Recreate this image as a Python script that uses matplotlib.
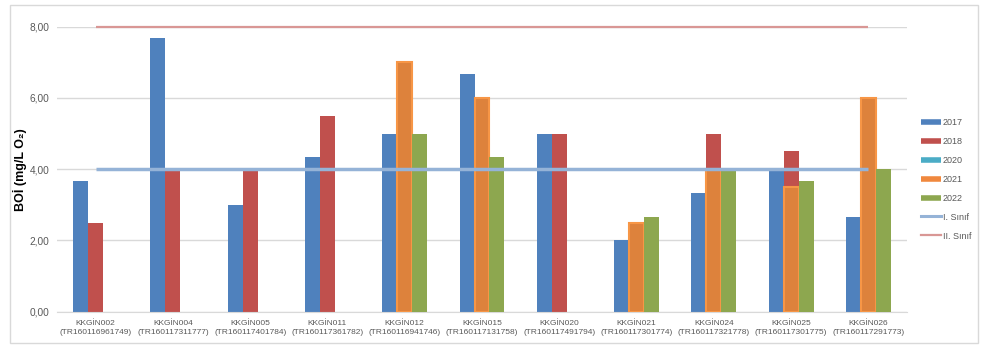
import numpy as np
import matplotlib
matplotlib.use("Agg")
import matplotlib.pyplot as plt
from matplotlib.lines import Line2D
from matplotlib.patches import Rectangle

plt.rcParams['font.family'] = ['Liberation Sans', 'DejaVu Sans']

stations = ["KKGİN002", "KKGİN004", "KKGİN005", "KKGİN011", "KKGİN012", "KKGİN015",
            "KKGİN020", "KKGİN021", "KKGİN024", "KKGİN025", "KKGİN026"]
codes = ["TR160116961749", "TR160117311777", "TR160117401784", "TR160117361782",
         "TR160116941746", "TR160117131758", "TR160117491794", "TR160117301774",
         "TR160117321778", "TR160117301775", "TR160117291773"]
nan = np.nan
y2017 = [3.67, 7.67, 3.0, 4.33, 5.0, 6.67, 5.0, 2.0, 3.33, 4.0, 2.67]
y2018 = [2.5, 4.0, 4.0, 5.5, nan, nan, 5.0, nan, 5.0, 4.5, nan]
y2020 = [nan] * 11
y2021 = [nan, nan, nan, nan, 7.0, 6.0, nan, 2.5, 4.0, 3.5, 6.0]
y2022 = [nan, nan, nan, nan, 5.0, 4.33, nan, 2.67, 4.0, 3.67, 4.0]
sinif1 = [4.0] * 11
sinif2 = [8.0] * 11

fig = plt.figure(figsize=(9.88, 3.56), dpi=100)
fig.patches.append(Rectangle((10/988, 1-343/356), 968/988, 338/356, transform=fig.transFigure,
                             fill=False, edgecolor='#D9D9D9', lw=1))
ax = fig.add_axes([57/988, 1-311.7/356, 850/988, 285/356])

x = np.arange(len(stations))
w = 0.194
c_blue = '#4F81BD'; c_red = '#C0504D'; c_teal = '#4BACC6'
c_orange = '#DD823C'; c_green = '#8DA74F'
ax.bar(x - w, y2017, w, color=c_blue, zorder=2)
ax.bar(x, y2018, w, color=c_red, zorder=2)
ax.bar(x + w, y2020, w, color=c_teal, zorder=2)
ax.bar(x, y2021, w, color=c_orange, edgecolor='#F79646', linewidth=1.5, zorder=3)
ax.bar(x + w, y2022, w, color=c_green, zorder=3)
ax.plot(x, sinif1, color='#95B3D7', lw=2.5, zorder=4, solid_capstyle='butt', clip_on=False)
ax.plot(x, sinif2, color='#D99795', lw=1.6, zorder=4, solid_capstyle='butt', clip_on=False)

ax.set_xlim(-0.5, len(stations) - 0.5)
ax.set_ylim(0, 8)
ax.set_yticks([0, 2, 4, 6, 8])
ax.set_yticklabels(["0,00", "2,00", "4,00", "6,00", "8,00"])
ax.set_xticks(x)
ax.set_xticklabels([f"{s}\n({c})" for s, c in zip(stations, codes)], linespacing=1.45)
ax.tick_params(axis='both', length=0, colors='#595959')
ax.tick_params(axis='x', pad=6, labelsize=6.0)
ax.tick_params(axis='y', pad=5.5, labelsize=7.3)
ax.grid(axis='y', color='#D9D9D9', lw=1, zorder=0)
ax.set_axisbelow(True)
for s in ['top', 'right', 'left']:
    ax.spines[s].set_visible(False)
ax.spines['bottom'].set_color('#D9D9D9')
ax.set_ylabel("BOİ (mg/L O₂)", fontsize=9, fontweight='bold', color='black')
ax.yaxis.set_label_coords((21 + 6 - 57) / 850, 0.5)

handles = [
    Line2D([], [], color=c_blue, lw=4, solid_capstyle='butt'),
    Line2D([], [], color=c_red, lw=4, solid_capstyle='butt'),
    Line2D([], [], color=c_teal, lw=4, solid_capstyle='butt'),
    Line2D([], [], color='#F0883E', lw=4, solid_capstyle='butt'),
    Line2D([], [], color=c_green, lw=4, solid_capstyle='butt'),
    Line2D([], [], color='#95B3D7', lw=2.2),
    Line2D([], [], color='#D99795', lw=1.6),
]
labels = ["2017", "2018", "2020", "2021", "2022", "I. Sınıf", "II. Sınıf"]
fig.legend(handles, labels, loc='upper left', bbox_to_anchor=(921/988, 1-118/356),
           frameon=False, fontsize=6.5, labelcolor='#595959', handlelength=2.2,
           handletextpad=0.2, labelspacing=1.1, borderpad=0, borderaxespad=0)

fig.savefig("out.png", dpi=100)
